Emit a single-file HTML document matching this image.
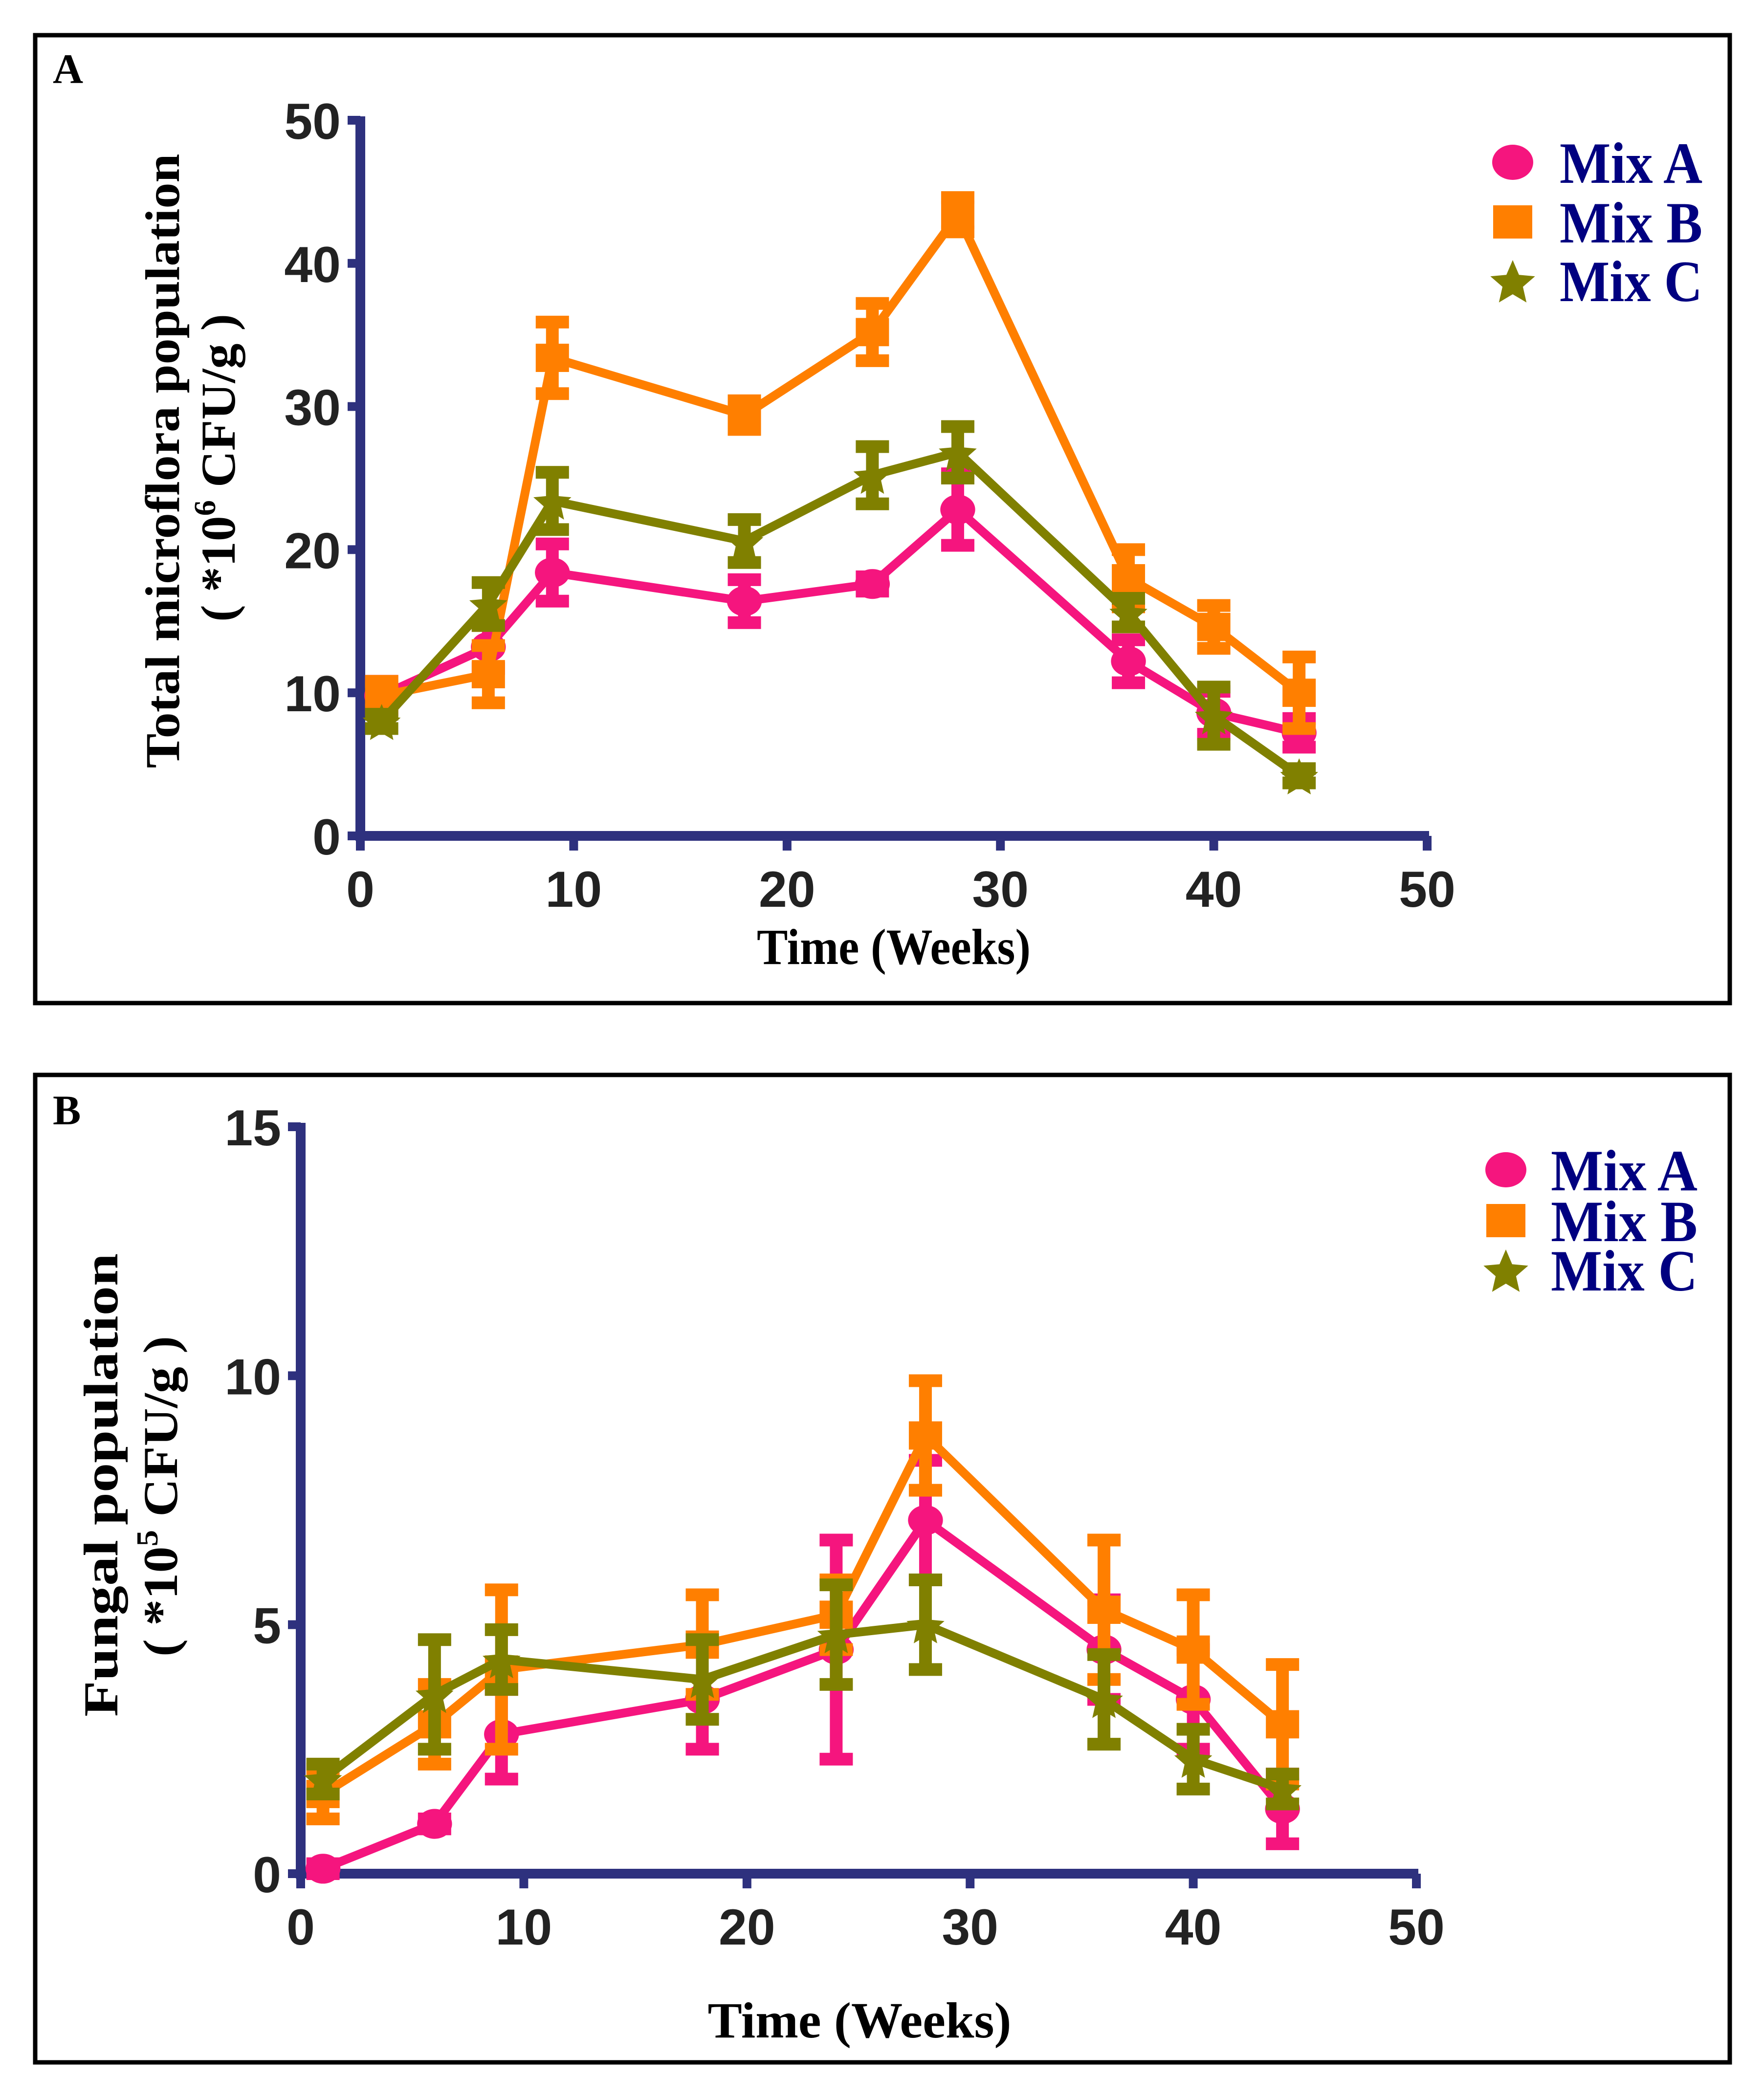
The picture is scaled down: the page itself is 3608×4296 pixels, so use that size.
<!DOCTYPE html>
<html><head><meta charset="utf-8"><style>
html,body{margin:0;padding:0;background:#fff;}
svg{display:block;}
</style></head><body>
<svg id="fig" xmlns="http://www.w3.org/2000/svg" width="3608" height="4296" viewBox="0 0 3608 4296">
<rect x="0" y="0" width="3608" height="4296" fill="#fff"/>
<rect x="72" y="72" width="3466" height="1980" fill="none" stroke="#000" stroke-width="9"/>
<rect x="72" y="2199" width="3466" height="2020" fill="none" stroke="#000" stroke-width="9"/>
<text x="108" y="170" font-family="Liberation Serif, serif" font-weight="bold" font-size="86" fill="#000">A</text>
<text x="108" y="2300" font-family="Liberation Serif, serif" font-weight="bold" font-size="86" fill="#000">B</text>
<g id="chartA"></g>
<g id="chartB"></g>
</svg>
<script>
const weeks = [1, 6, 9, 18, 24, 28, 36, 40, 44];
const seriesNames = ["Mix A", "Mix B", "Mix C"];
const xTicks = [0, 10, 20, 30, 40, 50];
const aYTicks = [0, 10, 20, 30, 40, 50];
const aMixA = [9.8, 13.2, 18.4, 16.4, 17.6, 22.8, 12.2, 8.6, 7.2];
const aMixAErr = [1, 1.5, 2, 1.5, 0.5, 2.5, 1.5, 1.5, 1];
const aMixB = [9.8, 11.3, 33.4, 29.4, 35.2, 43.4, 18, 14.6, 10];
const aMixBErr = [1, 2, 2.5, 1, 2, 1.2, 2, 1.5, 2.5];
const aMixC = [8, 16.2, 23.4, 20.6, 25.2, 26.8, 15.6, 8.4, 4.2];
const aMixCErr = [0.5, 1.5, 2, 1.5, 2, 1.8, 1, 2, 0.5];
const bYTicks = [0, 5, 10, 15];
const bMixA = [0.1, 1, 2.8, 3.5, 4.5, 7.1, 4.5, 3.5, 1.3];
const bMixAErr = [0.1, 0.1, 0.9, 1, 2.2, 1.2, 1, 1, 0.7];
const bMixB = [1.6, 3, 4.1, 4.6, 5.2, 8.8, 5.3, 4.5, 3];
const bMixBErr = [0.5, 0.8, 1.6, 1, 0.7, 1.1, 1.4, 1.1, 1.2];
const bMixC = [1.9, 3.6, 4.3, 3.9, 4.8, 5, 3.5, 2.3, 1.7];
const bMixCErr = [0.3, 1.1, 0.6, 0.8, 1, 0.9, 0.9, 0.6, 0.3];

const NS = "http://www.w3.org/2000/svg";
const colors = ["#f5157e", "#ff7f00", "#808000"];
const shapes = ["circle", "square", "star"];
function mk(tag, attrs, parent) {
  const e = document.createElementNS(NS, tag);
  for (const k in attrs) e.setAttribute(k, attrs[k]);
  parent.appendChild(e);
  return e;
}
function marker(g, shape, cx, cy, color, s) {
  let e;
  if (shape === "circle") e = mk("ellipse", {cx: cx, cy: cy, rx: s * 1.05, ry: s * 0.9, fill: color}, g);
  else if (shape === "square") e = mk("rect", {x: cx - s, y: cy - s * 0.85, width: 2 * s, height: 1.7 * s, fill: color}, g);
  else {
    let pts = [];
    for (let i = 0; i < 10; i++) {
      const r = i % 2 ? s * 0.55 : s * 1.2;
      const a = -Math.PI / 2 + i * Math.PI / 5;
      pts.push((cx + r * Math.cos(a)).toFixed(1) + "," + (cy + r * Math.sin(a) + s * 0.15).toFixed(1));
    }
    e = mk("polygon", {points: pts.join(" "), fill: color}, g);
  }
  return e;
}
function drawChart(cfg) {
  const g = document.getElementById(cfg.id);
  const xs = v => cfg.x0 + (v - 0) / 50 * (cfg.x1 - cfg.x0);
  const ys = v => cfg.y0 - v / cfg.ymax * (cfg.y0 - cfg.y1);
  const ax = mk("line", {x1: cfg.x0, y1: cfg.y1 - 8, x2: cfg.x0, y2: cfg.y0 + 10, stroke: "#2e317e", "stroke-width": 20}, g);
  
  
  const bx = mk("line", {x1: cfg.x0 - 10, y1: cfg.y0, x2: cfg.x1 + 4, y2: cfg.y0, stroke: "#2e317e", "stroke-width": 20}, g);
  
  
  cfg.yTicks.forEach(v => {
    const t = mk("line", {x1: cfg.x0 - 26, y1: ys(v), x2: cfg.x0, y2: ys(v), stroke: "#2e317e", "stroke-width": 18}, g);
    
    
    const l = mk("text", {x: cfg.x0 - 40, y: ys(v) + 38, "text-anchor": "end", "font-family": "Liberation Sans, sans-serif", "font-weight": "bold", "font-size": 104, fill: "#222"}, g);
    l.textContent = v;
    
    
  });
  xTicks.forEach(v => {
    const t = mk("line", {x1: xs(v), y1: cfg.y0, x2: xs(v), y2: cfg.y0 + 30, stroke: "#2e317e", "stroke-width": 18}, g);
    
    
    const l = mk("text", {x: xs(v), y: cfg.y0 + 145, "text-anchor": "middle", "font-family": "Liberation Sans, sans-serif", "font-weight": "bold", "font-size": 104, fill: "#222"}, g);
    l.textContent = v;
    
    
  });
  cfg.series.forEach((s, si) => {
    const sg = mk("g", {}, g);
    
    
    const c = colors[si];
    const pts = weeks.map((w, i) => xs(w).toFixed(1) + "," + ys(s.v[i]).toFixed(1)).join(" ");
    const pl = mk("polyline", {points: pts, fill: "none", stroke: c, "stroke-width": 18, "stroke-linejoin": "miter"}, sg);
    
    
    weeks.forEach((w, i) => {
      const cx = xs(w), hi = ys(s.v[i] + s.e[i]), lo = ys(s.v[i] - s.e[i]);
      const eb = mk("path", {d: "M" + cx + " " + hi + "V" + lo + "M" + (cx - 34) + " " + hi + "H" + (cx + 34) + "M" + (cx - 34) + " " + lo + "H" + (cx + 34), stroke: c, "stroke-width": 26, fill: "none"}, sg);
      
      
      const m = marker(sg, shapes[si], cx, ys(s.v[i]), c, 34);
      
      
    });
  });
  seriesNames.forEach((n, i) => {
    const ly = cfg.legY[i];
    const m = marker(g, shapes[i], cfg.legMX, ly, colors[i], 40);
    
    
    const t = mk("text", {x: cfg.legTX, y: ly + 42, "font-family": "Liberation Serif, serif", "font-weight": "bold", "font-size": 120, fill: "#000080", textLength: cfg.legTW, lengthAdjust: "spacingAndGlyphs"}, g);
    t.textContent = n;
    
    
  });
  const xt = mk("text", {x: cfg.xtX, y: cfg.xtY, "text-anchor": "middle", "font-family": "Liberation Serif, serif", "font-weight": "bold", "font-size": 104, fill: "#000", textLength: cfg.xtW, lengthAdjust: "spacingAndGlyphs"}, g);
  xt.textContent = "Time (Weeks)";
  
  
  const y1 = mk("text", {x: 0, y: 0, "text-anchor": "middle", transform: "translate(" + cfg.yt1X + "," + cfg.ytY + ") rotate(-90)", "font-family": "Liberation Serif, serif", "font-weight": "bold", "font-size": 100, fill: "#000", textLength: cfg.yt1W, lengthAdjust: "spacingAndGlyphs"}, g);
  y1.textContent = cfg.yt1;
  
  
  const y2 = mk("text", {x: 0, y: 0, "text-anchor": "middle", transform: "translate(" + cfg.yt2X + "," + cfg.ytY2 + ") rotate(-90)", "font-family": "Liberation Serif, serif", "font-weight": "bold", "font-size": 100, fill: "#000", textLength: cfg.yt2W, lengthAdjust: "spacingAndGlyphs"}, g);
  y2.innerHTML = '( *10<tspan dy="-40" font-size="62">' + cfg.exp + '</tspan><tspan dy="40"> CFU/g )</tspan>';
  
  
}
drawChart({id: "chartA", x0: 737, x1: 2919, y0: 1710, y1: 246, ymax: 50, yTicks: aYTicks,
  series: [{v: aMixA, e: aMixAErr}, {v: aMixB, e: aMixBErr}, {v: aMixC, e: aMixCErr}],
  legY: [332, 454, 574], legMX: 3094, legTX: 3190, legTW: 292,
  xtX: 1828, xtY: 1972, xtW: 560,
  yt1: "Total microflora population", yt1X: 366, ytY: 943, yt1W: 1257,
  yt2X: 480, ytY2: 957, yt2W: 630, exp: "6"});
drawChart({id: "chartB", x0: 615, x1: 2897, y0: 3833, y1: 2305, ymax: 15, yTicks: bYTicks,
  series: [{v: bMixA, e: bMixAErr}, {v: bMixB, e: bMixBErr}, {v: bMixC, e: bMixCErr}],
  legY: [2393, 2497, 2598], legMX: 3080, legTX: 3172, legTW: 300,
  xtX: 1758, xtY: 4168, xtW: 621,
  yt1: "Fungal population", yt1X: 240, ytY: 3038, yt1W: 948,
  yt2X: 362, ytY2: 3061, yt2W: 656, exp: "5"});
</script>
</body></html>
